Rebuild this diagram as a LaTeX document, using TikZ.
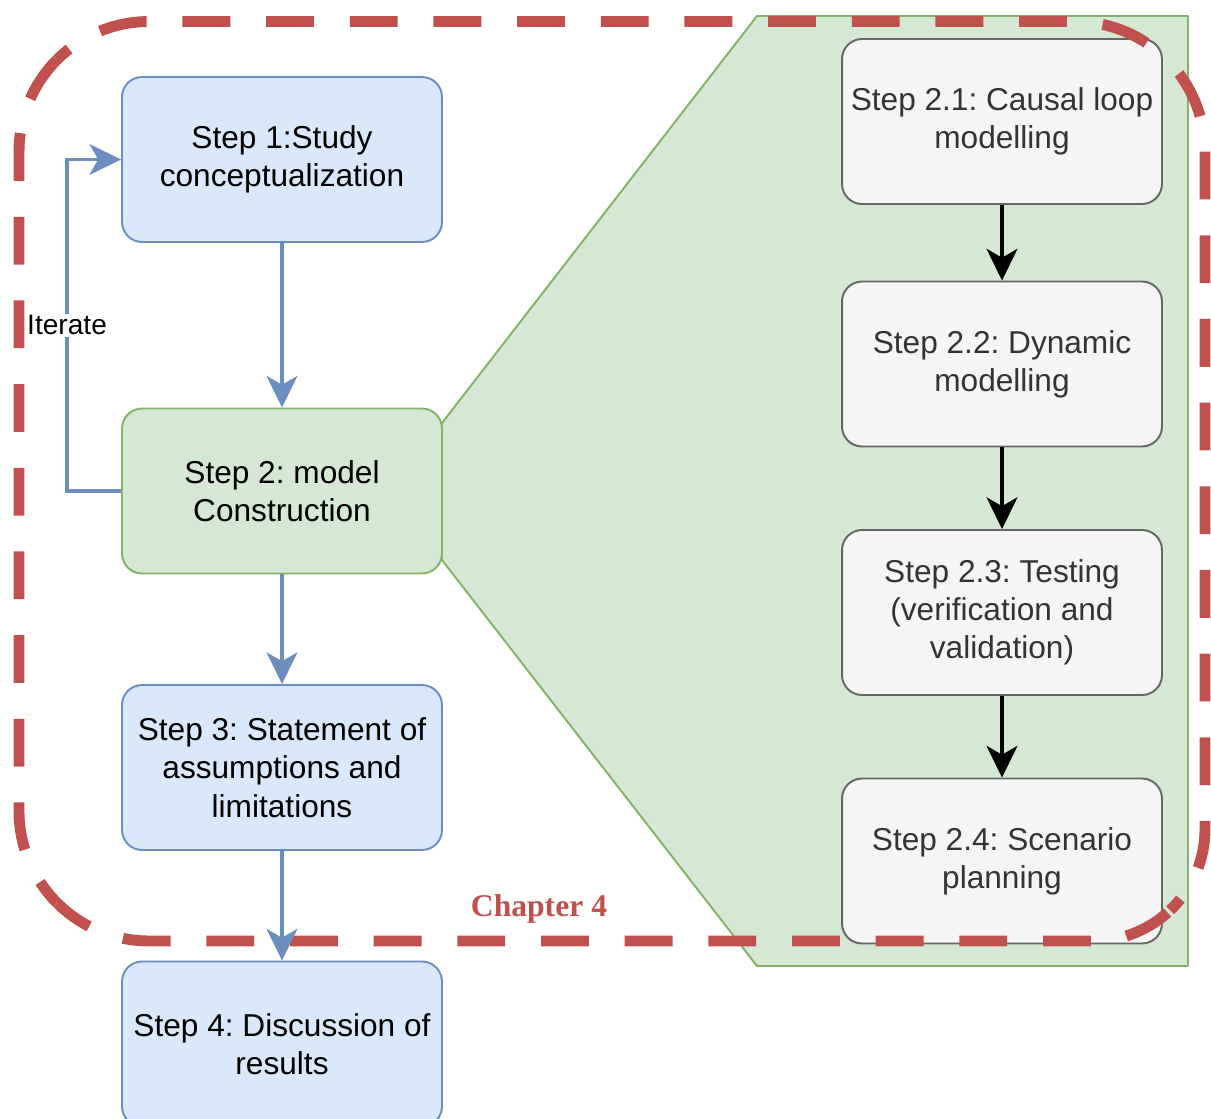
\documentclass[tikz,border=0pt]{standalone}
\usepackage{fontspec}
\setmainfont{Liberation Sans}
\newfontfamily\chapfont{Liberation Serif}
\usetikzlibrary{arrows.meta}
\definecolor{blueFill}{HTML}{DAE8FC}
\definecolor{blueLine}{HTML}{6C8EBF}
\definecolor{greenFill}{HTML}{D5E8D4}
\definecolor{greenLine}{HTML}{82B366}
\definecolor{grayFill}{HTML}{F5F5F5}
\definecolor{grayLine}{HTML}{666666}
\definecolor{grayText}{HTML}{333333}
\definecolor{chapRed}{HTML}{C0504D}
\frenchspacing
\begin{document}
\begin{tikzpicture}[x=0.02cm,y=-0.02cm,
  stepbox/.style={draw, rounded corners=0.4cm, minimum width=6.4cm,
    minimum height=3.3cm, align=center, line width=1.1pt, inner sep=0pt,
    font=\fontsize{18}{21.8}\selectfont},
  mainstep/.style={stepbox, fill=blueFill, draw=blueLine},
  modelstep/.style={stepbox, fill=greenFill, draw=greenLine},
  substep/.style={stepbox, fill=grayFill, draw=grayLine, text=grayText},
  tipshape/.style={-{Stealth[length=18pt,width=17.5pt,inset=5pt]}},
  flow/.style={tipshape, draw=blueLine, line width=2.2pt},
  subflow/.style={tipshape, draw=black, line width=2.2pt},
  chapline/.style={draw=chapRed, line width=6.2pt,
    dash pattern=on 27.21pt off 20.41pt},
]
\useasboundingbox (0,0) rectangle (1211,1119);

% zoom-out panel behind the sub-steps of step 2
\filldraw[fill=greenFill, draw=greenLine, line width=1.1pt, line join=round]
  (442,423) -- (757,16) -- (1188,16) -- (1188,966) -- (757,966) -- (442,560) -- cycle;

% main steps
\node[mainstep]  (s1) at (282,159.5) {Step 1:Study\\conceptualization};
\node[modelstep] (s2) at (282,491)   {Step 2: model\\Construction};
\node[mainstep]  (s3) at (282,767.5) {Step 3: Statement of\\assumptions and\\limitations};
\node[mainstep]  (s4) at (282,1044)  {Step 4: Discussion of\\results};

% sub-steps of model construction
\node[substep] (g1) at (1002,121.5) {Step 2.1: Causal loop\\modelling};
\node[substep] (g2) at (1002,364)   {Step 2.2: Dynamic\\modelling};
\node[substep] (g3) at (1002,612.5) {Step 2.3: Testing\\(verification and\\validation)};
\node[substep] (g4) at (1002,861)   {Step 2.4: Scenario\\planning};

\draw[subflow] (g1) -- (g2);
\draw[subflow] (g2) -- (g3);
\draw[subflow] (g3) -- (g4);

% chapter boundary: one dashed stroke per side, each side taking half of
% the neighbouring rounded corners
\draw[chapline, dash phase=18.08pt] (57.1,59.6) arc[start angle=135, end angle=90, radius=2.6cm]
  -- (1075,21.5) arc[start angle=90, end angle=45, radius=2.6cm];
\draw[chapline, dash phase=37.08pt] (1166.9,59.6) arc[start angle=45, end angle=0, radius=2.6cm]
  -- (1205,829) arc[start angle=0, end angle=-46.5, radius=2.24cm];
\draw[chapline, dash phase=4.48pt] (57.1,902.9) arc[start angle=225, end angle=270, radius=2.6cm]
  -- (1093,941) arc[start angle=270, end angle=315, radius=2.24cm];
\draw[chapline, dash phase=0pt] (57.1,59.6) arc[start angle=135, end angle=180, radius=2.6cm]
  -- (19,811) arc[start angle=180, end angle=225, radius=2.6cm];
\node[text=chapRed, font=\chapfont\bfseries\fontsize{18}{21}\selectfont] (chap) at (539,909) {Chapter 4};

% main flow
\draw[flow] (s1) -- (s2);
\draw[flow] (s2) -- (s3);
\draw[flow] (s3) -- (s4);
\draw[flow] (s2.west) -- ++(-54,0) |- node[pos=0.25, fill=white, inner sep=1pt,
  font=\fontsize{16}{18}\selectfont] (itl) {Iterate} (s1.west);
\end{tikzpicture}
\end{document}
